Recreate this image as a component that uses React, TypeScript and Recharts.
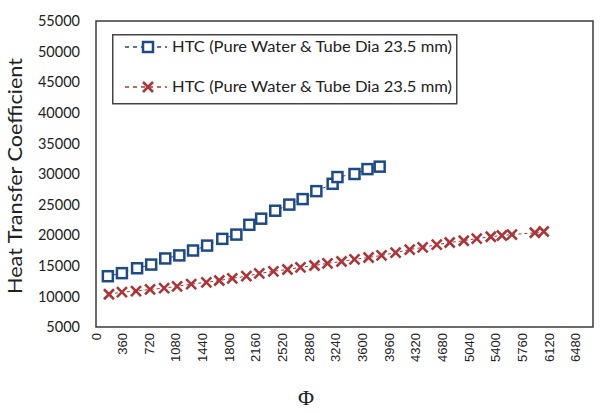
import { Line, LineChart, ReferenceArea, XAxis, YAxis } from 'recharts'

const bluePhi = [160, 350, 555, 745, 935, 1125, 1310, 1500, 1705, 1895, 2070, 2230, 2420, 2610, 2790, 2975, 3195, 3260, 3490, 3665, 3830]
const blueHtc = [13300, 13800, 14600, 15200, 16200, 16700, 17500, 18300, 19400, 20100, 21700, 22700, 24000, 25000, 25900, 27200, 28400, 29500, 30000, 30800, 31200]

const redPhi = [175, 350, 540, 730, 920, 1095, 1285, 1490, 1665, 1840, 2030, 2205, 2395, 2585, 2760, 2950, 3125, 3315, 3490, 3680, 3855, 4045, 4235, 4410, 4600, 4775, 4965, 5140, 5330, 5480, 5615, 5925, 6045]
const redHtc = [10350, 10700, 10850, 11150, 11350, 11650, 12000, 12300, 12600, 12950, 13300, 13750, 14100, 14400, 14750, 15050, 15400, 15700, 16050, 16350, 16700, 17150, 17650, 18000, 18450, 18800, 19100, 19450, 19750, 19950, 20100, 20400, 20600]

const xTicks = [0, 360, 720, 1080, 1440, 1800, 2160, 2520, 2880, 3240, 3600, 3960, 4320, 4680, 5040, 5400, 5760, 6120, 6480]
const yTicks = [5000, 10000, 15000, 20000, 25000, 30000, 35000, 40000, 45000, 50000, 55000]

const seriesName = 'HTC (Pure Water & Tube Dia 23.5 mm)'

const BLUE = '#1f4a86'
const RED = '#a8373a'
const FONT = 'Lato, sans-serif'

const blueData = bluePhi.map((phi, i) => ({ phi, htc: blueHtc[i] }))
const redData = redPhi.map((phi, i) => ({ phi, htc: redHtc[i] }))

function SquareDot(props: any) {
  const { cx, cy, index } = props
  if (cx == null || cy == null) return null
  return (
    <rect
      key={'sq' + index}
      x={cx - 5}
      y={cy - 5}
      width={10}
      height={10}
      fill='#fff'
      stroke={BLUE}
      strokeWidth={2.5}
    />
  )
}

function CrossDot(props: any) {
  const { cx, cy, index } = props
  if (cx == null || cy == null) return null
  return (
    <path
      key={'x' + index}
      d={`M${cx - 5},${cy - 5}L${cx + 5},${cy + 5}M${cx - 5},${cy + 5}L${cx + 5},${cy - 5}`}
      stroke={RED}
      strokeWidth={2.6}
      fill='none'
    />
  )
}

function XTick(props: any) {
  const { x, payload } = props
  return (
    <text
      transform={`translate(${x},333) rotate(-90)`}
      dy={4.5}
      textAnchor='end'
      fontFamily='Liberation Sans, Arial, sans-serif'
      fontSize={13}
      fill='#222'
    >
      {payload.value}
    </text>
  )
}

function ChartLegend() {
  return (
    <svg
      width={346}
      height={71}
      style={{ position: 'absolute', left: 112, top: 34 }}
    >
      <rect x={0.75} y={0.75} width={344} height={69} fill='#fff' stroke='#444' strokeWidth={1.5} />
      <line x1={13} y1={13} x2={55} y2={13} stroke={BLUE} strokeWidth={1.3} strokeDasharray='4 4' />
      <rect x={31} y={8} width={10} height={10} fill='#fff' stroke={BLUE} strokeWidth={2.5} />
      <text x={60} y={18} fontFamily={FONT} fontSize={14.5} fill='#222' textLength={280} lengthAdjust='spacingAndGlyphs'>
        {seriesName}
      </text>
      <line x1={13} y1={53} x2={55} y2={53} stroke={RED} strokeWidth={1.3} strokeDasharray='4 4' />
      <path d='M31,48L41,58M31,58L41,48' stroke={RED} strokeWidth={2.6} />
      <text x={60} y={58} fontFamily={FONT} fontSize={14.5} fill='#222' textLength={280} lengthAdjust='spacingAndGlyphs'>
        {seriesName}
      </text>
    </svg>
  )
}

export default function App() {
  return (
    <div style={{ position: 'absolute', left: 0, top: 0, width: 600, height: 413, background: '#fff' }}>
      <LineChart width={600} height={413} margin={{ top: 21, right: 7, left: 0, bottom: 0 }}>
        <XAxis
          type='number'
          dataKey='phi'
          domain={[0, 6710]}
          ticks={xTicks}
          interval={0}
          tick={<XTick />}
          axisLine={false}
          tickLine={false}
          height={86}
          label={{
            content: () => (
              <text x={306} y={405} textAnchor='middle' fontFamily='Liberation Serif, serif' fontSize={22} fill='#222'>
                Φ
              </text>
            ),
          }}
        />
        <YAxis
          type='number'
          domain={[5000, 55000]}
          ticks={yTicks}
          interval={0}
          width={96}
          tickSize={0}
          tickMargin={16}
          axisLine={false}
          tickLine={false}
          tick={{ fontFamily: FONT, fontSize: 14.5, fill: '#222' }}
          label={{
            content: () => (
              <text
                transform='translate(22,176) rotate(-90)'
                textAnchor='middle'
                fontFamily={FONT}
                fontSize={18.5}
                fill='#222'
                textLength={236}
                lengthAdjust='spacingAndGlyphs'
              >
                Heat Transfer Coefficient
              </text>
            ),
          }}
        />
        <ReferenceArea
          x1={0}
          x2={6710}
          y1={5000}
          y2={55000}
          fill='none'
          stroke='#3a3a3a'
          strokeWidth={1.5}
          ifOverflow='extendDomain'
        />
        <Line
          data={blueData}
          dataKey='htc'
          name={seriesName}
          type='linear'
          stroke={BLUE}
          strokeWidth={1}
          strokeDasharray='3 3'
          dot={SquareDot}
          activeDot={false}
          isAnimationActive={false}
        />
        <Line
          data={redData}
          dataKey='htc'
          name={seriesName}
          type='linear'
          stroke={RED}
          strokeWidth={1}
          strokeDasharray='3 3'
          dot={CrossDot}
          activeDot={false}
          isAnimationActive={false}
        />
      </LineChart>
      <ChartLegend />
    </div>
  )
}
